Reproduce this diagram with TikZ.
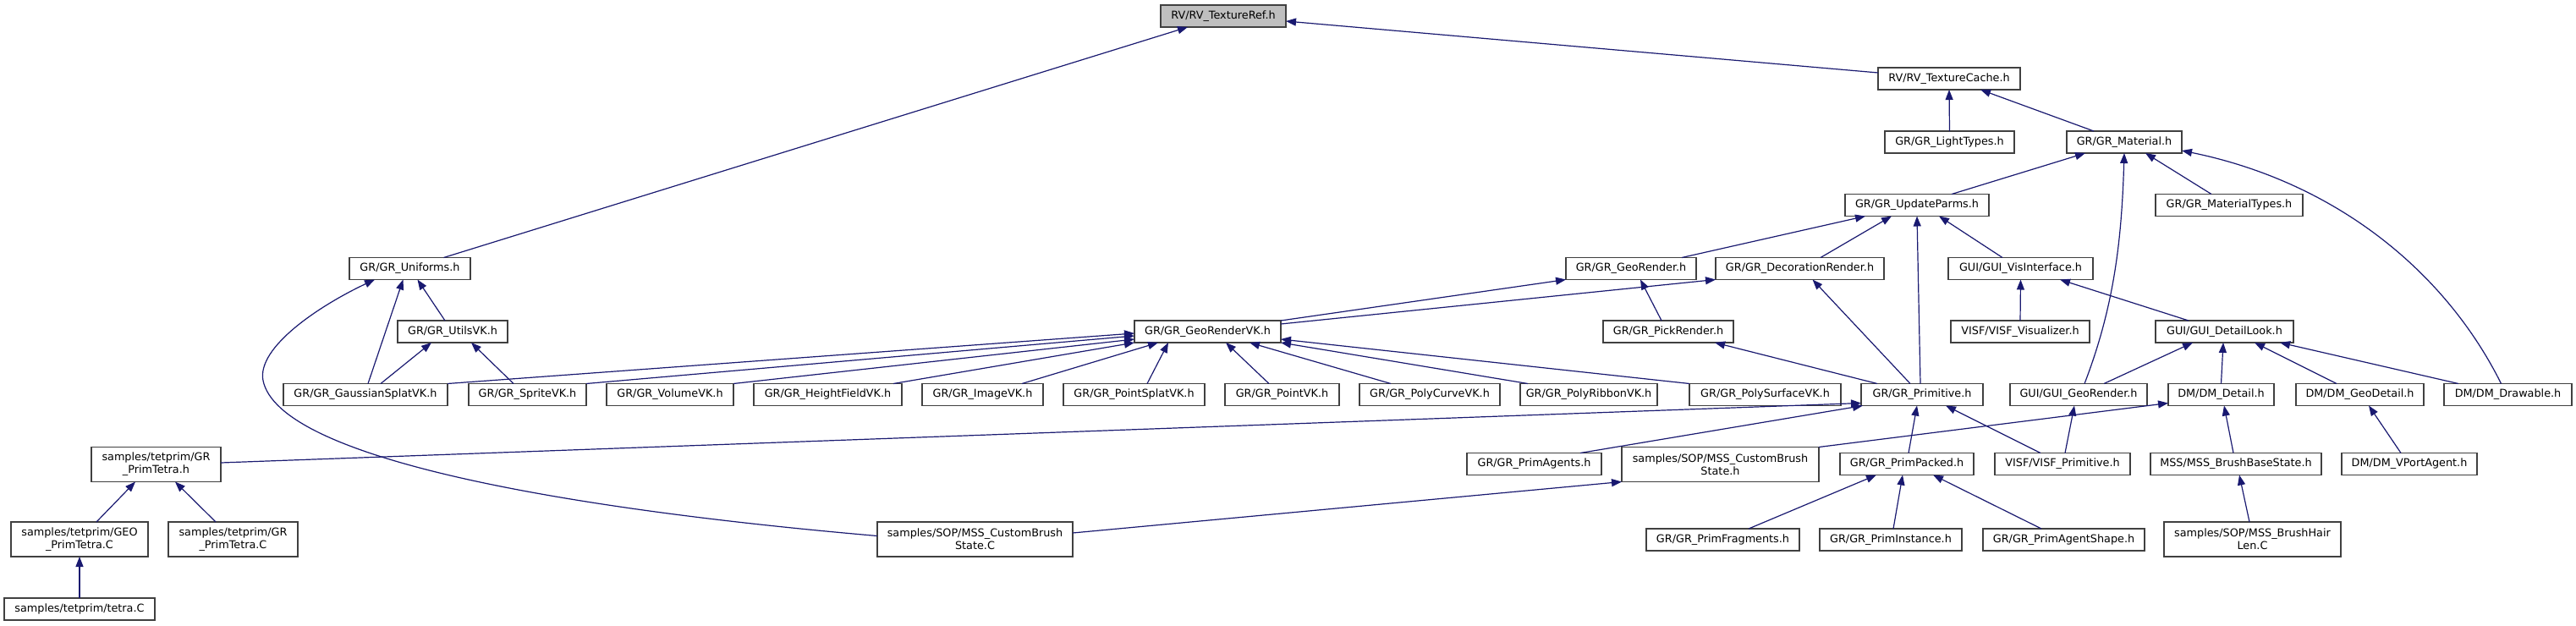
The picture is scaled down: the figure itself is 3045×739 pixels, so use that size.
\documentclass[tikz,border=0pt]{standalone}
\usepackage{fontspec}
\setmainfont{DejaVu Sans}
\usetikzlibrary{arrows.meta}
\definecolor{edgeblue}{HTML}{191970}
\definecolor{boxline}{HTML}{404040}
\definecolor{rootgray}{HTML}{BFBFBF}
\begin{document}
\begin{tikzpicture}[x=1pt,y=-1pt,
  box/.style={draw=boxline, line width=1.3pt, fill=white, inner sep=0pt, outer sep=0pt,
    minimum height=26pt, align=center, font=\fontsize{12.8}{15}\selectfont},
  tall/.style={box, minimum height=41pt},
  root/.style={box, fill=rootgray},
  link/.style={draw=edgeblue, line width=1.2pt, -{Triangle[length=12pt,width=9pt]}}]
\useasboundingbox[fill=white] (0,0) rectangle (3045,739);

% nodes
\node[root, minimum width=148pt] (TRef) at (1446,19) {RV/RV\_TextureRef.h};
\node[box, minimum width=168pt] (TCache) at (2304,93) {RV/RV\_TextureCache.h};
\node[box, minimum width=153pt] (Light) at (2304.5,168) {GR/GR\_LightTypes.h};
\node[box, minimum width=136pt] (Mat) at (2511,168) {GR/GR\_Material.h};
\node[box, minimum width=170pt] (UP) at (2266,242.5) {GR/GR\_UpdateParms.h};
\node[box, minimum width=174pt] (MatT) at (2635,242.5) {GR/GR\_MaterialTypes.h};
\node[box, minimum width=143pt] (Unif) at (484.5,317.5) {GR/GR\_Uniforms.h};
\node[box, minimum width=154pt] (GeoR) at (1928,317.5) {GR/GR\_GeoRender.h};
\node[box, minimum width=199pt] (Deco) at (2127.5,317.5) {GR/GR\_DecorationRender.h};
\node[box, minimum width=171pt] (VisI) at (2388.5,317.5) {GUI/GUI\_VisInterface.h};
\node[box, minimum width=130pt] (Utils) at (535,392) {GR/GR\_UtilsVK.h};
\node[box, minimum width=173pt] (GRVK) at (1427.5,392) {GR/GR\_GeoRenderVK.h};
\node[box, minimum width=154pt] (Pick) at (1972,392) {GR/GR\_PickRender.h};
\node[box, minimum width=164pt] (Vis) at (2388,392) {VISF/VISF\_Visualizer.h};
\node[box, minimum width=163pt] (DLook) at (2629.5,392) {GUI/GUI\_DetailLook.h};

\node[box, minimum width=194pt] (Gauss) at (432,466.5) {GR/GR\_GaussianSplatVK.h};
\node[box, minimum width=139pt] (Sprite) at (623.5,466.5) {GR/GR\_SpriteVK.h};
\node[box, minimum width=150pt] (Vol) at (792,466.5) {GR/GR\_VolumeVK.h};
\node[box, minimum width=175pt] (HF) at (978.5,466.5) {GR/GR\_HeightFieldVK.h};
\node[box, minimum width=143pt] (Img) at (1161.5,466.5) {GR/GR\_ImageVK.h};
\node[box, minimum width=167pt] (PSplat) at (1340.5,466.5) {GR/GR\_PointSplatVK.h};
\node[box, minimum width=135pt] (Pt) at (1515.5,466.5) {GR/GR\_PointVK.h};
\node[box, minimum width=166pt] (PCurve) at (1690,466.5) {GR/GR\_PolyCurveVK.h};
\node[box, minimum width=162pt] (PRib) at (1878,466.5) {GR/GR\_PolyRibbonVK.h};
\node[box, minimum width=179pt] (PSurf) at (2086.5,466.5) {GR/GR\_PolySurfaceVK.h};
\node[box, minimum width=144pt] (Prim) at (2272,466.5) {GR/GR\_Primitive.h};
\node[box, minimum width=162pt] (GGeo) at (2457,466.5) {GUI/GUI\_GeoRender.h};
\node[box, minimum width=125pt] (DMD) at (2625.5,466.5) {DM/DM\_Detail.h};
\node[box, minimum width=151pt] (DMG) at (2789.5,466.5) {DM/DM\_GeoDetail.h};
\node[box, minimum width=151pt] (DMDr) at (2964.5,466.5) {DM/DM\_Drawable.h};

\node[box, minimum width=159pt] (PAg) at (1813.5,548.5) {GR/GR\_PrimAgents.h};
\node[tall, minimum width=233pt] (CBSh) at (2033.5,549) {samples/SOP/MSS\_CustomBrush\\State.h};
\node[box, minimum width=158pt] (PP) at (2254,548.5) {GR/GR\_PrimPacked.h};
\node[box, minimum width=160pt] (VPrim) at (2438,548.5) {VISF/VISF\_Primitive.h};
\node[box, minimum width=202pt] (BBS) at (2643,548.5) {MSS/MSS\_BrushBaseState.h};
\node[box, minimum width=160pt] (VPort) at (2848,548.5) {DM/DM\_VPortAgent.h};
\node[tall, minimum width=153pt] (PTh) at (184.5,549) {samples/tetprim/GR\\\_PrimTetra.h};

\node[tall, minimum width=162pt] (GEOC) at (94,637.5) {samples/tetprim/GEO\\\_PrimTetra.C};
\node[tall, minimum width=153pt] (GRC) at (275.5,637.5) {samples/tetprim/GR\\\_PrimTetra.C};
\node[tall, minimum width=231pt] (CBSC) at (1152.5,637.5) {samples/SOP/MSS\_CustomBrush\\State.C};
\node[tall, minimum width=209pt] (BHL) at (2662.5,637.5) {samples/SOP/MSS\_BrushHair\\Len.C};
\node[box, minimum width=181pt] (Frag) at (2036.5,638) {GR/GR\_PrimFragments.h};
\node[box, minimum width=168pt] (Inst) at (2235,638) {GR/GR\_PrimInstance.h};
\node[box, minimum width=191pt] (PAS) at (2439.5,638) {GR/GR\_PrimAgentShape.h};
\node[box, minimum width=178pt] (tetra) at (94,720) {samples/tetprim/tetra.C};

% edges
\draw[link] ([yshift=7pt]TCache.west) -- ([yshift=-6pt]TRef.east);
\draw[link] ([xshift=40pt]Unif.north) -- ([xshift=-42pt]TRef.south);
\draw[link] (Light.north) -- (TCache.south);
\draw[link] ([xshift=-36pt]Mat.north) -- ([xshift=37pt]TCache.south);
\draw[link] ([xshift=41pt]UP.north) -- ([xshift=-46pt]Mat.south);
\draw[link] ([xshift=7pt]GGeo.north) .. controls (2500,360) and (2508,280) .. (Mat.south);
\draw[link] ([xshift=-21pt]MatT.north) -- ([xshift=25pt]Mat.south);
\draw[link] ([xshift=-8pt]DMDr.north) .. controls (2890,320) and (2760,215) .. ([yshift=3pt]Mat.south east);
\draw[link] ([xshift=60pt]GeoR.north) -- ([xshift=-61pt]UP.south);
\draw[link] ([xshift=24.5pt]Deco.north) -- ([xshift=-30pt]UP.south);
\draw[link] ([xshift=-2pt]Prim.north) -- (UP.south);
\draw[link] ([xshift=-21.5pt]VisI.north) -- ([xshift=26pt]UP.south);
\draw[link] (GRVK.north east) -- (GeoR.south west);
\draw[link] ([yshift=-4pt]GRVK.north east) -- (Deco.south west);
\draw[link] ([xshift=-8pt]Pick.north) -- ([xshift=11pt]GeoR.south);
\draw[link] ([xshift=-14pt]Prim.north) -- ([xshift=15pt]Deco.south);
\draw[link] ([xshift=-53pt]Prim.north) -- ([xshift=55pt]Pick.south);
\draw[link] (Vis.north) -- (VisI.south);
\draw[link] ([xshift=-42.5pt]DLook.north) -- ([xshift=46.5pt]VisI.south);
\draw[link] ([xshift=-9pt]Utils.north) -- ([xshift=9pt]Unif.south);
\draw[link] ([xshift=3pt]Gauss.north) -- ([xshift=-8pt]Unif.south);
\draw[link] ([xshift=18pt]Gauss.north) -- ([xshift=-25pt]Utils.south);
\draw[link] ([xshift=-16.5pt]Sprite.north) -- ([xshift=22pt]Utils.south);
\draw[link] ([yshift=4pt]CBSC.west) .. controls (650,600) and (330,540) .. (311,450)
   .. controls (303,410) and (380,360) .. ([xshift=-41.5pt]Unif.south);
\draw[link] (Gauss.north east) -- ([yshift=-2pt]GRVK.west);
\draw[link] (Sprite.north east) -- ([yshift=-5pt]GRVK.west);
\draw[link] (Vol.north east) -- ([yshift=-9pt]GRVK.west);
\draw[link] ([xshift=77.5pt]HF.north) -- (GRVK.south west);
\draw[link] ([xshift=46.5pt]Img.north) -- ([xshift=-58.5pt]GRVK.south);
\draw[link] ([xshift=15.5pt]PSplat.north) -- ([xshift=-46.5pt]GRVK.south);
\draw[link] ([xshift=-15.5pt]Pt.north) -- ([xshift=21.5pt]GRVK.south);
\draw[link] ([xshift=-46pt]PCurve.north) -- ([xshift=49.5pt]GRVK.south);
\draw[link] ([xshift=-72pt]PRib.north) -- (GRVK.south east);
\draw[link] (PSurf.north west) -- ([yshift=-9pt]GRVK.east);
\draw[link] ([xshift=30pt]GGeo.north) -- ([xshift=-37.5pt]DLook.south);
\draw[link] (DMD.north) -- ([xshift=-1.5pt]DLook.south);
\draw[link] ([xshift=-27.5pt]DMG.north) -- ([xshift=35.5pt]DLook.south);
\draw[link] ([xshift=-58.5pt]DMDr.north) -- ([xshift=65.5pt]DLook.south);
\draw[link] ([yshift=2pt]PTh.east) -- ([yshift=3pt]Prim.south west);
\draw[link] ([xshift=54.5pt]PAg.north) -- ([xshift=2pt]Prim.south west);
\draw[link] ([xshift=2pt]PP.north) -- ([xshift=-6pt]Prim.south);
\draw[link] ([xshift=-26pt]VPrim.north) -- ([xshift=28pt]Prim.south);
\draw[link] (CBSh.north east) -- ([yshift=3pt]DMD.south west);
\draw[link] ([xshift=3pt]VPrim.north) -- ([xshift=-5pt]GGeo.south);
\draw[link] ([xshift=-3pt]BBS.north) -- ([xshift=3.5pt]DMD.south);
\draw[link] ([xshift=-10pt]VPort.north) -- ([xshift=10.5pt]DMG.south);
\draw[link] ([xshift=20pt]GEOC.north) -- ([xshift=-24.5pt]PTh.south);
\draw[link] ([xshift=-20.5pt]GRC.north) -- ([xshift=22.5pt]PTh.south);
\draw[link] (tetra.north) -- (GEOC.south);
\draw[link] ([yshift=7.5pt]CBSC.east) -- (CBSh.south west);
\draw[link] ([xshift=30.5pt]Frag.north) -- ([xshift=-36pt]PP.south);
\draw[link] ([xshift=3pt]Inst.north) -- ([xshift=-5pt]PP.south);
\draw[link] ([xshift=-26.5pt]PAS.north) -- ([xshift=31pt]PP.south);
\draw[link] ([xshift=-3.5pt]BHL.north) -- ([xshift=4pt]BBS.south);
\end{tikzpicture}
\end{document}
